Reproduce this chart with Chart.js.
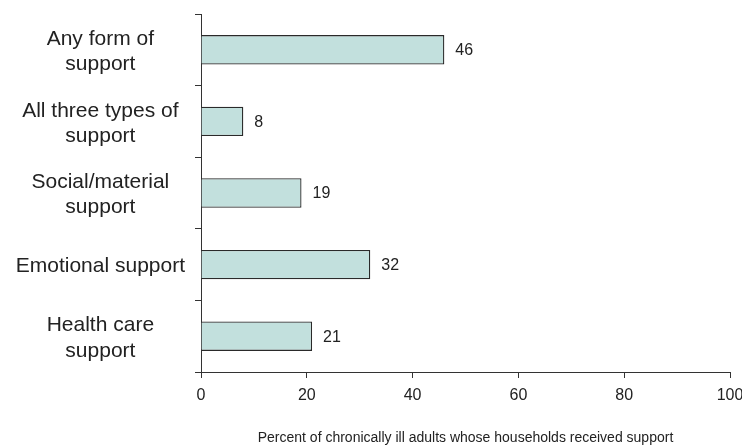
<!DOCTYPE html>
<html>
<head>
<meta charset="utf-8">
<script src="https://cdn.jsdelivr.net/npm/chart.js@4"></script>
<style>
  body { margin: 0; background: #fff; }
  #wrap { width: 742px; height: 447px; }
</style>
</head>
<body>
<div id="wrap"><canvas id="myChart" width="742" height="447"></canvas></div>
<script>
const categories = [
  ["Any form of", "support"],
  ["All three types of", "support"],
  ["Social/material", "support"],
  "Emotional support",
  ["Health care", "support"],
];
const values = [46, 8, 19, 32, 21];
const xTicks = [0, 20, 40, 60, 80, 100];

const FONT = "'Liberation Sans', Arial, sans-serif";

// draws the number just right of each bar
const valueLabels = {
  id: "valueLabels",
  afterDatasetsDraw(chart) {
    const ctx = chart.ctx;
    const meta = chart.getDatasetMeta(0);
    ctx.save();
    ctx.font = "16px " + FONT;
    ctx.fillStyle = "#222";
    ctx.textBaseline = "middle";
    meta.data.forEach((bar, i) => {
      ctx.fillText(String(values[i]), bar.x + 11, bar.y + 1);
    });
    ctx.restore();
  },
};

new Chart(document.getElementById("myChart"), {
  type: "bar",
  data: {
    labels: categories,
    datasets: [
      {
        data: values,
        backgroundColor: "#c2e0dd",
        borderColor: "#2a2a2a",
        borderWidth: 1.3,
        barPercentage: 0.41,
        categoryPercentage: 1,
      },
    ],
  },
  options: {
    indexAxis: "y",
    responsive: false,
    animation: false,
    layout: { padding: { top: 14, right: 12, left: 0, bottom: 0 } },
    plugins: { legend: { display: false }, tooltip: { enabled: false } },
    scales: {
      x: {
        min: 0,
        max: 100,
        afterBuildTicks: (s) => { s.ticks = xTicks.map((v) => ({ value: v })); },
        ticks: {
          color: "#222",
          padding: 8,
          font: { size: 16, family: FONT },
        },
        grid: { drawOnChartArea: false, tickLength: 6, color: "#333" },
        border: { color: "#333", width: 1 },
        title: {
          display: true,
          text: "Percent of chronically ill adults whose households received support",
          color: "#222",
          font: { size: 14, family: FONT },
          padding: { top: 27, bottom: 0 },
        },
        afterFit: (s) => { s.paddingLeft = 0; s.paddingRight = 0; s.height = 75; },
      },
      y: {
        ticks: {
          color: "#222",
          padding: 10,
          labelOffset: 2,
          crossAlign: "center",
          font: { size: 21, family: FONT, lineHeight: 1.2 },
        },
        grid: { drawOnChartArea: false, offset: true, tickLength: 6, color: "#333" },
        border: { color: "#333", width: 1 },
        afterFit: (s) => { s.width = 201; s.paddingTop = 0; s.paddingBottom = 0; },
      },
    },
  },
  plugins: [valueLabels],
});
</script>
</body>
</html>
